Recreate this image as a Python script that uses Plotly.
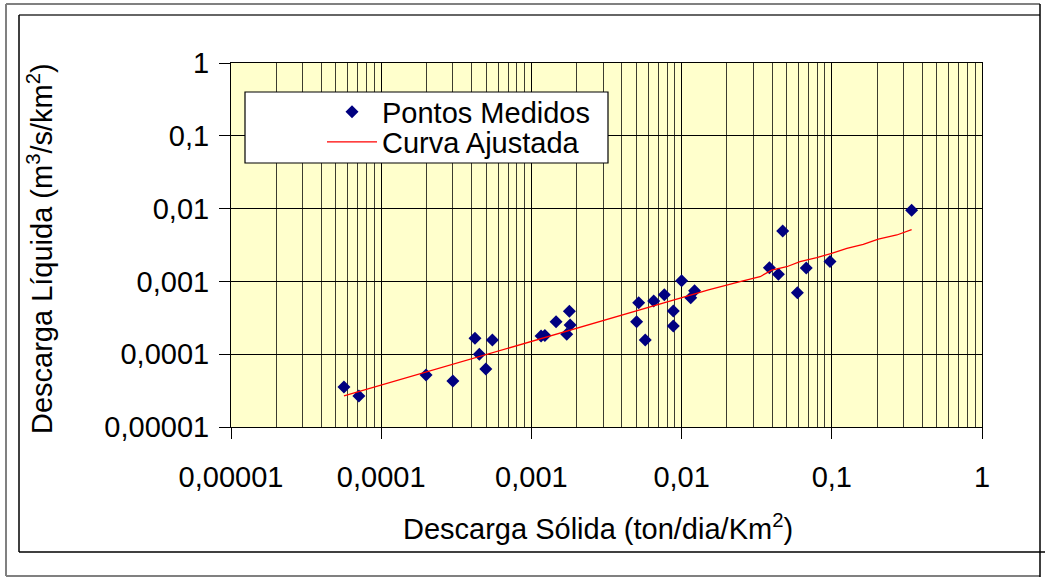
import plotly.graph_objects as go

# Measured points: solid discharge (x) vs. liquid discharge (y)
pontos_x = [5.65e-5, 7.1e-5, 1.99e-4, 3.0e-4, 4.21e-4, 4.5e-4, 4.97e-4, 5.5e-4,
            1.16e-3, 1.23e-3, 1.46e-3, 1.72e-3, 1.79e-3, 1.81e-3, 5.02e-3, 5.18e-3,
            5.73e-3, 6.52e-3, 7.67e-3, 8.81e-3, 8.81e-3, 1.0e-2, 1.15e-2, 1.22e-2,
            3.84e-2, 4.41e-2, 4.71e-2, 5.9e-2, 6.76e-2, 9.73e-2, 0.34]
pontos_y = [3.55e-5, 2.67e-5, 5.18e-5, 4.28e-5, 1.65e-4, 9.97e-5, 6.26e-5, 1.57e-4,
            1.78e-4, 1.8e-4, 2.79e-4, 1.88e-4, 3.88e-4, 2.52e-4, 2.8e-4, 5.1e-4,
            1.57e-4, 5.38e-4, 6.57e-4, 3.92e-4, 2.44e-4, 1.02e-3, 5.97e-4, 7.45e-4,
            1.54e-3, 1.25e-3, 4.92e-3, 7.0e-4, 1.53e-3, 1.87e-3, 9.48e-3]

# Fitted curve
curva_x = [5.65e-5, 2.0e-4, 1.0e-3, 1.0e-2, 1.51e-2, 2.45e-2, 3.33e-2, 3.98e-2,
           5.01e-2, 6.14e-2, 7.94e-2, 9.98e-2, 0.126, 0.162, 0.204, 0.271, 0.34]
curva_y = [2.67e-5, 5.69e-5, 1.51e-4, 6.05e-4, 7.62e-4, 9.9e-4, 1.16e-3, 1.43e-3,
           1.59e-3, 1.87e-3, 2.12e-3, 2.43e-3, 2.85e-3, 3.23e-3, 3.82e-3, 4.34e-3, 5.13e-3]

# Axis ticks
tick_vals = [1e-5, 1e-4, 1e-3, 1e-2, 1e-1, 1]
tick_text = ["0,00001", "0,0001", "0,001", "0,01", "0,1", "1"]
minor_vals = [m * 10.0 ** e for e in range(-5, 0) for m in range(2, 10)]

W, H = 1045, 577
L, R, T, B = 231, 982, 63, 427  # plot area in pixels


def px(x):
    return (x - L) / (R - L)


def py(y):
    return (B - y) / (B - T)


FONT = "Liberation Sans, Arial, sans-serif"
FS = 29

fig = go.Figure()
fig.add_trace(go.Scatter(
    x=pontos_x, y=pontos_y, mode="markers", name="Pontos Medidos",
    marker=dict(symbol="diamond", size=10, color="#000080"),
    legend="legend",
))
fig.add_trace(go.Scatter(
    x=curva_x, y=curva_y, mode="lines", name="Curva Ajustada",
    line=dict(color="#FF0000", width=1.3),
    legend="legend2",
))

axis_common = dict(
    type="log", range=[-5, 0], tickvals=tick_vals, ticktext=tick_text,
    ticks="outside", ticklen=11, tickcolor="black", tickwidth=1,
    showline=True, linecolor="black", linewidth=1, mirror=True,
    showgrid=True, gridcolor="black", gridwidth=1,
    tickfont=dict(family=FONT, size=FS, color="black"),
    zeroline=False,
)

fig.update_xaxes(**axis_common, ticklabelstandoff=13,
                 minor=dict(tickvals=minor_vals, showgrid=True,
                            gridcolor="#3c3c30", gridwidth=1, ticks=""))
fig.update_yaxes(**axis_common, ticklabelstandoff=4)

shapes = [
    # legend box
    dict(type="rect", xref="paper", yref="paper", layer="above",
         x0=px(245), x1=px(608), y0=py(163), y1=py(92),
         fillcolor="white", line=dict(color="black", width=1.2)),
    # outer grey frame
    dict(type="line", xref="paper", yref="paper", x0=px(6), x1=px(1040), y0=py(4), y1=py(4),
         line=dict(color="#808080", width=2)),
    dict(type="line", xref="paper", yref="paper", x0=px(6), x1=px(6), y0=py(4), y1=py(576),
         line=dict(color="#808080", width=2)),
    dict(type="line", xref="paper", yref="paper", x0=px(6), x1=px(1040), y0=py(576), y1=py(576),
         line=dict(color="#808080", width=2)),
    # inner black frame
    dict(type="line", xref="paper", yref="paper", x0=px(19), x1=px(1040), y0=py(15), y1=py(15),
         line=dict(color="#333333", width=1.5)),
    dict(type="line", xref="paper", yref="paper", x0=px(19), x1=px(19), y0=py(15), y1=py(552),
         line=dict(color="black", width=1.5)),
    dict(type="line", xref="paper", yref="paper", x0=px(19), x1=px(1046), y0=py(552), y1=py(552),
         line=dict(color="black", width=1.5)),
    dict(type="line", xref="paper", yref="paper", x0=px(1040), x1=px(1040), y0=py(4), y1=py(578),
         line=dict(color="black", width=1.5)),
]

annotations = [
    dict(text="Descarga Sólida (ton/dia/Km<sup>2</sup>)", xref="paper", yref="paper",
         x=px(598), y=py(527), xanchor="center", yanchor="middle", showarrow=False,
         font=dict(family=FONT, size=FS, color="black")),
    dict(text="Descarga Líquida (m<sup>3</sup>/s/km<sup>2</sup>)", xref="paper", yref="paper",
         x=px(40), y=py(248), xanchor="center", yanchor="middle", showarrow=False,
         textangle=-90, font=dict(family=FONT, size=FS, color="black")),
]

legend_common = dict(
    xanchor="left", yanchor="middle", bgcolor="rgba(0,0,0,0)", borderwidth=0,
    font=dict(family=FONT, size=FS, color="black"), itemwidth=50,
)

fig.update_layout(
    width=W, height=H,
    margin=dict(l=L, r=W - R, t=T, b=H - B, pad=0),
    paper_bgcolor="white", plot_bgcolor="#FFFFCC",
    showlegend=True,
    legend=dict(**legend_common, x=px(322), y=py(112)),
    legend2=dict(**legend_common, x=px(322), y=py(142)),
    shapes=shapes, annotations=annotations,
)

fig.write_html("out.html")
